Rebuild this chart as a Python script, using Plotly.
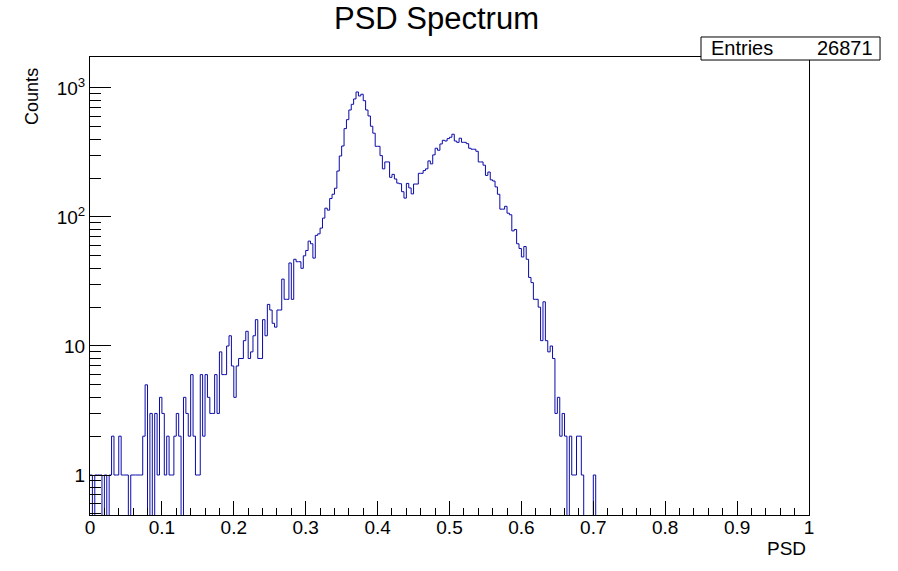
import numpy as np
import plotly.graph_objects as go

# PSD histogram, 300 bins from 0 to 1 (bins past 0.7 are empty)
n_bins = 300
x_lo, x_hi = 0.0, 1.0
counts = [
    1, 0, 1, 1, 1, 0, 1, 0, 1, 2,
    1, 1, 2, 1, 1, 1, 0, 1, 1, 1,
    1, 1, 2, 5, 0, 3, 0, 3, 1, 4,
    3, 1, 2, 1, 1, 2, 3, 2, 0, 4,
    3, 2, 6, 2, 1, 1, 6, 2, 6, 4,
    3, 3, 6, 3, 9, 6, 6, 10, 12, 7,
    4, 7, 8, 8, 11, 13, 8, 9, 12, 16,
    8, 8, 16, 12, 21, 19, 15, 14, 19, 19,
    33, 23, 23, 44, 23, 47, 45, 45, 40, 50,
    55, 65, 62, 48, 72, 74, 82, 98, 117, 113,
    139, 150, 167, 227, 297, 355, 484, 568, 675, 747,
    822, 931, 867, 894, 797, 675, 607, 505, 446, 353,
    353, 299, 236, 267, 267, 203, 214, 197, 183, 181,
    157, 140, 182, 168, 151, 180, 180, 218, 218, 229,
    236, 272, 258, 303, 341, 329, 368, 393, 388, 405,
    415, 438, 388, 379, 408, 379, 379, 370, 341, 335,
    335, 323, 267, 267, 252, 210, 223, 194, 190, 171,
    150, 115, 115, 121, 107, 104, 78, 80, 62, 57,
    49, 59, 47, 34, 31, 23, 23, 20, 11, 22,
    11, 9, 10, 8, 3, 4, 2, 3, 2, 0,
    2, 1, 1, 2, 2, 1, 0, 0, 0, 0,
    1,
]
counts = counts + [0] * (n_bins - len(counts))
entries = 26871

title = "PSD Spectrum"
x_title = "PSD"
y_title = "Counts"
y_ticks = [1, 10, 100, 1000]
y_ticktext = ["1", "10", "10<sup>2</sup>", "10<sup>3</sup>"]

edges = np.linspace(x_lo, x_hi, n_bins + 1)
c = np.array(counts + [counts[-1]], dtype=float)
# empty bins drop below the log axis like ROOT does
c[c <= 0] = 1e-3

font = "Liberation Sans, Arial, sans-serif"
line_col = "#0a0aa8"
lab_size = 19

fig = go.Figure()
fig.add_trace(go.Scatter(x=edges, y=c, mode="lines", line_shape="hv",
                         line=dict(color=line_col, width=1), showlegend=False,
                         hoverinfo="skip"))

fig.update_xaxes(range=[x_lo, x_hi], showline=True, mirror=True, linecolor="black",
                 linewidth=1, showgrid=False, zeroline=False,
                 ticks="inside", ticklen=14, tickcolor="black", tickwidth=1,
                 tick0=0, dtick=0.1, ticklabelstandoff=-5,
                 minor=dict(ticks="inside", ticklen=7, tickcolor="black", dtick=0.02, tick0=0,
                            showgrid=False),
                 tickfont=dict(family=font, size=lab_size, color="black"))

minor_y = [0.5, 0.6, 0.7, 0.8, 0.9] + [k * d for d in (1, 10, 100) for k in range(2, 10)]
fig.update_yaxes(type="log", range=[-0.31, 3.24], showline=True, mirror=True,
                 linecolor="black", linewidth=1, showgrid=False, zeroline=False,
                 ticks="inside", ticklen=21, tickcolor="black", tickwidth=1,
                 tickmode="array", tickvals=y_ticks, ticktext=y_ticktext,
                 minor=dict(ticks="inside", ticklen=11, tickcolor="black",
                            tickmode="array", tickvals=minor_y, showgrid=False),
                 tickfont=dict(family=font, size=lab_size, color="black"))

# title and axis titles placed like the ROOT canvas
fig.add_annotation(text=title, x=0.4826, y=1.085, xref="paper", yref="paper",
                   showarrow=False, xanchor="center", yanchor="middle",
                   font=dict(family=font, size=31, color="black"))
fig.add_annotation(text=y_title, x=-0.0807, y=0.915, xref="paper", yref="paper",
                   showarrow=False, textangle=-90, xanchor="center", yanchor="middle",
                   font=dict(family=font, size=18, color="black"))
fig.add_annotation(text=x_title, x=0.9986, y=-0.074, xref="paper", yref="paper",
                   showarrow=False, xanchor="right", yanchor="middle",
                   font=dict(family=font, size=lab_size, color="black"))

# stats box
fig.add_shape(type="rect", xref="paper", yref="paper", x0=0.8498, x1=1.0988,
              y0=0.9934, y1=1.0437, line=dict(color="black", width=1), fillcolor="white")
fig.add_annotation(text="Entries", x=0.8609, y=1.0186, xref="paper", yref="paper",
                   showarrow=False, xanchor="left", yanchor="middle",
                   font=dict(family=font, size=20, color="black"))
fig.add_annotation(text=str(entries), x=1.0919, y=1.0186, xref="paper", yref="paper",
                   showarrow=False, xanchor="right", yanchor="middle",
                   font=dict(family=font, size=20, color="black"))

fig.update_layout(width=898, height=571, autosize=False,
                  margin=dict(l=90, r=89, t=57, b=56, pad=0),
                  paper_bgcolor="white", plot_bgcolor="white",
                  font=dict(family=font, color="black"))

fig.write_html("out.html", config={"displayModeBar": False},
               post_script="document.body.style.margin='0';")
